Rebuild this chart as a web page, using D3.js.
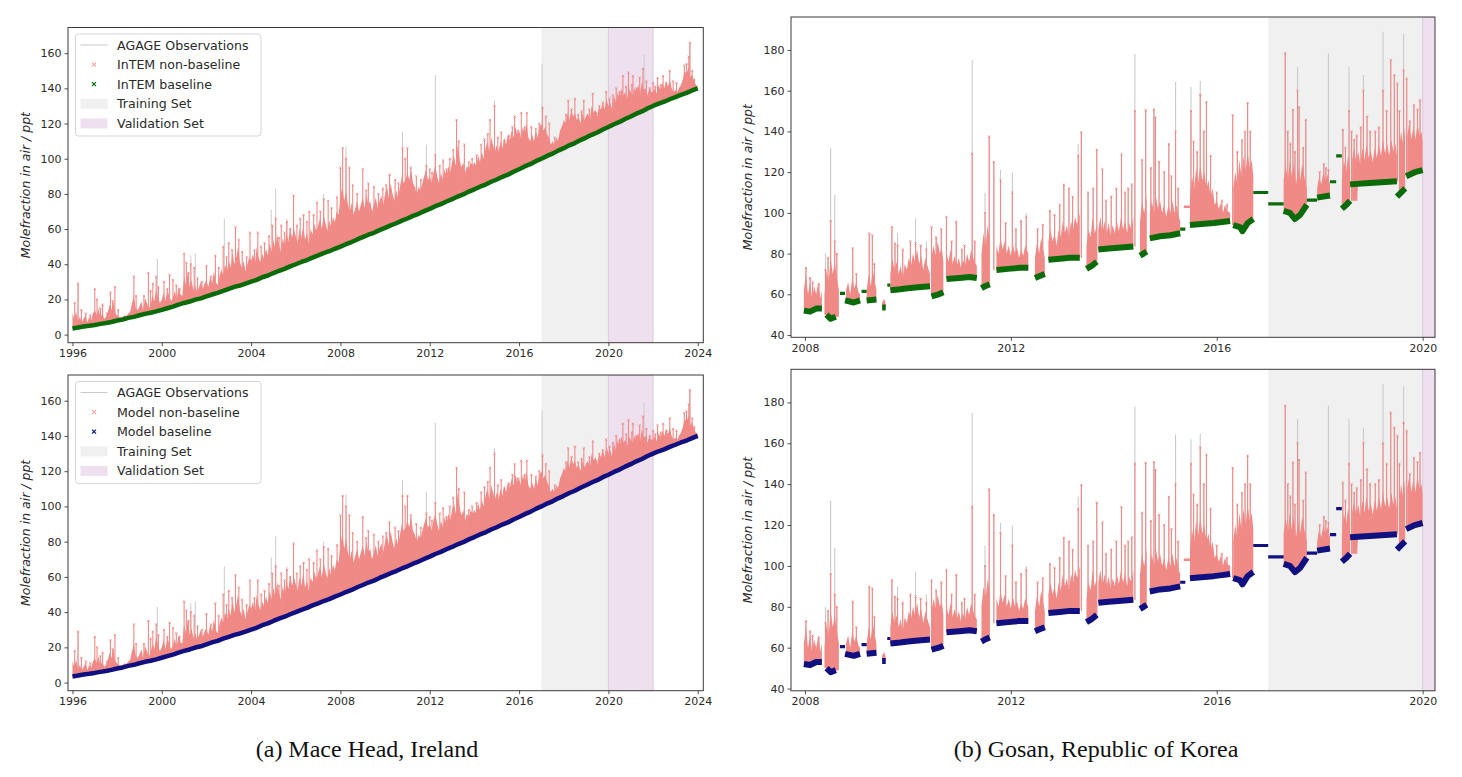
<!DOCTYPE html>
<html>
<head>
<meta charset="utf-8">
<script src="https://cdn.jsdelivr.net/npm/d3@7"></script>
<style>
  body { margin: 0; background: #fff; }
  svg { display: block; }
</style>
</head>
<body>
<svg id="fig" width="1462" height="777"></svg>
<script>
// ── Mace Head ──
// baseline, quarterly from 1996.0
const MHD_T0 = 1996;
const mhdBase = [
  3.5, 4.0, 4.6, 5.0,  5.5, 6.1, 6.6, 7.2,  8.0, 8.6, 9.5, 10.1,  11.0, 11.8, 12.4, 13.2,
  14.1, 15.0, 15.9, 17.0,  18.0, 18.8, 19.9, 20.6,  21.7, 22.8, 23.7, 24.9,  26.0, 27.1, 27.9, 29.0,
  30.1, 31.1, 32.6, 33.6,  35.0, 36.3, 37.4, 38.8,  40.0, 41.3, 42.4, 43.8,  45.0, 46.3, 47.4, 48.8,
  50.0, 51.4, 52.6, 54.1,  55.4, 56.8, 57.9, 59.4,  60.7, 62.1, 63.3, 64.8,  66.0, 67.5, 68.7, 70.2,
  71.5, 73.0, 74.2, 75.7,  77.0, 78.5, 79.7, 81.3,  82.6, 84.1, 85.3, 86.9,  88.2, 89.7, 90.9, 92.6,
  94.0, 95.6, 96.9, 98.6,  100.0, 101.6, 102.9, 104.6,  106.0, 107.6, 108.9, 110.6,  112.0, 113.6, 114.9, 116.6,
  118.0, 119.6, 120.9, 122.6,  124.0, 125.6, 126.9, 128.6,  130.0, 131.3, 132.4, 133.8,  135.0, 136.3, 137.4, 138.8,
  140.0
];
// top of the dense non-baseline cloud, monthly from 1996.0
const mhdBody = [
  12, 9, 13, 8, 10, 7, 9, 11, 7, 10, 8, 12,
  14, 11, 15, 10, 12, 9, 10, 13, 17, 14, 19, 12,
  11, 10, 9.5, 10, 11, 10.5, 12, 13, 18, 22, 15, 14,
  16, 19, 14, 21, 18, 15, 17, 22, 19, 26, 21, 18,
  20, 24, 19, 26, 22, 19, 21, 25, 20, 27, 23, 22,
  33, 28, 36, 27, 31, 25, 28, 24, 27, 30, 26, 29,
  31, 27, 33, 29, 36, 30, 28, 33, 37, 34, 40, 36,
  42, 38, 47, 40, 44, 50, 41, 38, 42, 36, 40, 44,
  42, 46, 40, 50, 44, 41, 46, 43, 49, 45, 52, 47,
  54, 49, 57, 51, 47, 55, 50, 58, 53, 61, 55, 60,
  56, 52, 60, 55, 62, 54, 58, 52, 60, 57, 63, 59,
  62, 66, 60, 68, 63, 59, 65, 61, 67, 64, 70, 68,
  78, 85, 76, 82, 74, 70, 75, 68, 72, 76, 70, 74,
  78, 72, 80, 74, 76, 70, 74, 78, 72, 76, 79, 74,
  80, 84, 78, 86, 80, 76, 82, 78, 84, 90, 86, 88,
  92, 88, 94, 86, 84, 80, 84, 82, 86, 90, 94, 88,
  90, 86, 92, 96, 90, 86, 92, 88, 94, 90, 96, 92,
  98, 102, 96, 108, 100, 95, 98, 92, 96, 94, 98, 96,
  98, 96, 102, 98, 104, 100, 106, 110, 104, 112, 108, 104,
  108, 104, 110, 106, 112, 108, 114, 110, 116, 112, 118, 114,
  116, 112, 118, 114, 120, 112, 110, 114, 110, 116, 112, 118,
  120, 116, 118, 114, 112, 108, 110, 108, 112, 110, 116, 118,
  122, 120, 126, 122, 128, 124, 126, 122, 124, 120, 126, 122,
  124, 126, 122, 130, 126, 128, 124, 130, 128, 132, 128, 134,
  130, 132, 128, 136, 132, 138, 134, 140, 136, 138, 134, 140,
  138, 136, 140, 138, 142, 137, 144, 139, 140, 136, 140, 138,
  138, 140, 137, 142, 139, 143, 140, 144, 141, 145, 140, 138,
  139, 138, 140, 142, 145, 150, 148, 152, 146, 148, 144, 142,
  141
];
// individual pollution events [year, ppt]
const mhdSpikes = [
  [1996.1, 18], [1996.25, 29], [1996.4, 14], [1996.6, 12], [1996.8, 11], [1997.0, 26], [1997.1, 20],
  [1997.25, 15], [1997.35, 17], [1997.55, 12], [1997.7, 24], [1997.8, 19], [1997.9, 27], [1998.05, 14],
  [1998.75, 33], [1998.85, 22], [1999.2, 22], [1999.4, 35], [1999.5, 25], [1999.6, 29], [1999.75, 33],
  [1999.85, 27], [2000.1, 30], [2000.25, 26], [2000.35, 34], [2000.5, 31], [2000.65, 28], [2000.8, 26],
  [2001.0, 46], [2001.1, 41], [2001.2, 35], [2001.3, 40], [2001.45, 38], [2001.6, 32], [2001.8, 30],
  [2002.0, 39], [2002.2, 33], [2002.4, 45], [2002.55, 38], [2002.75, 50], [2002.9, 44], [2003.0, 52],
  [2003.15, 48], [2003.3, 61], [2003.45, 54], [2003.6, 47], [2003.8, 44], [2003.95, 58], [2004.15, 48],
  [2004.3, 58], [2004.45, 50], [2004.6, 52], [2004.8, 56], [2004.95, 62], [2005.1, 66], [2005.25, 55],
  [2005.35, 62], [2005.5, 58], [2005.6, 64], [2005.75, 60], [2005.9, 79], [2006.05, 62], [2006.2, 66],
  [2006.35, 68], [2006.5, 64], [2006.6, 70], [2006.8, 68], [2006.95, 75], [2007.1, 70], [2007.25, 77],
  [2007.45, 76], [2007.6, 72], [2007.85, 78], [2008.0, 95], [2008.1, 106], [2008.25, 100], [2008.4, 95],
  [2008.55, 85], [2008.75, 80], [2009.0, 94], [2009.15, 82], [2009.25, 86], [2009.5, 84], [2009.7, 80],
  [2009.9, 83], [2010.05, 85], [2010.2, 91], [2010.45, 88], [2010.6, 86], [2010.78, 106], [2010.9, 100],
  [2011.0, 106], [2011.15, 95], [2011.4, 90], [2011.6, 88], [2011.85, 96], [2012.0, 94], [2012.1, 92],
  [2012.25, 102], [2012.45, 96], [2012.6, 99], [2012.75, 94], [2012.9, 100], [2013.05, 105], [2013.2, 122],
  [2013.3, 110], [2013.55, 108], [2013.75, 98], [2013.9, 100], [2014.1, 102], [2014.3, 108], [2014.45, 111],
  [2014.6, 114], [2014.7, 122], [2014.9, 130], [2015.05, 112], [2015.2, 115], [2015.35, 110], [2015.55, 113],
  [2015.7, 118], [2015.8, 124], [2015.95, 116], [2016.1, 126], [2016.25, 118], [2016.35, 126], [2016.55, 118],
  [2016.75, 117], [2016.9, 120], [2017.05, 129], [2017.2, 124], [2017.35, 120], [2017.6, 112], [2017.8, 111],
  [2017.95, 118], [2018.1, 125], [2018.2, 133], [2018.35, 128], [2018.5, 134], [2018.65, 125], [2018.8, 127],
  [2018.9, 133], [2019.05, 124], [2019.15, 128], [2019.3, 137], [2019.45, 126], [2019.6, 130], [2019.75, 132],
  [2019.9, 138], [2020.05, 134], [2020.2, 136], [2020.35, 140], [2020.5, 138], [2020.65, 147], [2020.8, 141],
  [2020.9, 149], [2021.05, 142], [2021.1, 147], [2021.25, 140], [2021.4, 146], [2021.55, 151], [2021.7, 144],
  [2021.85, 140], [2022.0, 143], [2022.1, 141], [2022.2, 146], [2022.35, 142], [2022.45, 147], [2022.6, 143],
  [2022.75, 150], [2022.9, 144], [2023.05, 143], [2023.2, 140], [2023.4, 153], [2023.5, 154], [2023.6, 158],
  [2023.65, 166], [2023.75, 150], [2023.85, 145]
];
// observation peaks rising above the non-baseline markers
const mhdObsPeaks = [
  [1996.25, 29], [1999.8, 43], [2001.3, 45], [2001.5, 46], [2002.8, 66], [2004.9, 71], [2005.1, 83],
  [2005.6, 66], [2007.25, 80], [2008.25, 107], [2010.78, 115], [2011.85, 108], [2012.25, 147.5],
  [2014.9, 133], [2017.03, 154], [2021.6, 159], [2023.65, 166]
];

// ── Gosan ──
// baseline clusters [year, ppt], null = gap
const gsnBaseline = [
  [2007.98, 52], [2008.1, 51.5], [2008.22, 53], [2008.33, 53], null,
  [2008.42, 50], [2008.5, 48], [2008.6, 49], null,
  [2008.78, 57], [2008.95, 56], [2009.07, 57], null,
  [2009.2, 57], [2009.39, 57.5], null,
  [2009.5, 53.5], [2009.57, 53.5], null,
  [2009.66, 62], [2009.85, 62.5], [2010.0, 63], [2010.2, 63.5], [2010.43, 64], null,
  [2010.46, 59], [2010.6, 60], [2010.69, 61], null,
  [2010.75, 67.5], [2011.0, 68], [2011.2, 68.5], [2011.34, 68], null,
  [2011.43, 63], [2011.5, 64], [2011.59, 65], null,
  [2011.72, 72], [2011.95, 72.5], [2012.15, 73], [2012.34, 73], null,
  [2012.47, 68], [2012.56, 69], [2012.66, 70], null,
  [2012.73, 77], [2012.95, 77.5], [2013.15, 78], [2013.34, 78], null,
  [2013.47, 72.5], [2013.57, 74], [2013.67, 76], null,
  [2013.7, 82], [2013.9, 82.5], [2014.15, 83], [2014.38, 83.5], null,
  [2014.51, 79], [2014.58, 80], [2014.64, 81], null,
  [2014.7, 87.5], [2014.9, 88.5], [2015.1, 89], [2015.29, 90], null,
  [2015.48, 94], [2015.7, 94.5], [2015.94, 95], [2016.1, 95.5], [2016.26, 96], null,
  [2016.32, 94], [2016.45, 93], [2016.5, 91], [2016.6, 95], [2016.71, 97], null,
  [2017.3, 101], [2017.42, 100], [2017.52, 97], [2017.62, 99], [2017.75, 104], null,
  [2017.95, 107.5], [2018.2, 108.5], null,
  [2018.43, 102], [2018.52, 104], [2018.59, 106], null,
  [2018.59, 114], [2018.9, 114.5], [2019.2, 115], [2019.5, 115.5], null,
  [2019.5, 108], [2019.58, 110], [2019.66, 112], null,
  [2019.68, 118], [2019.85, 120], [2020.0, 121]
];
// flat baseline runs across data gaps [from, to, ppt]
const gsnFlatBase = [
  [2008.68, 2008.78, 60.5], [2009.1, 2009.2, 61.5], [2009.6, 2009.66, 64.5], [2015.29, 2015.39, 92],
  [2016.71, 2017.0, 110], [2017.0, 2017.3, 104.4], [2017.75, 2017.95, 106.3], [2018.2, 2018.32, 115.3],
  [2018.32, 2018.43, 128]
];
const gsnFlatNonBase = [[2015.36, 2015.48, 103]];
// top of the dense non-baseline cloud [year, ppt], null = gap
const gsnBody = [
  [2007.98, 62], [2008.02, 70], [2008.06, 60], [2008.1, 66], [2008.14, 58], [2008.18, 64], [2008.22, 60],
  [2008.26, 66], [2008.3, 58], [2008.33, 62], null,
  [2008.38, 60], [2008.42, 72], [2008.46, 66], [2008.5, 78], [2008.54, 70], [2008.58, 76], [2008.62, 68],
  [2008.66, 62], null,
  [2008.8, 62], [2008.84, 66], [2008.88, 60], [2008.92, 68], [2008.96, 63], [2009.0, 66], [2009.04, 61],
  [2009.07, 60], null,
  [2009.2, 62], [2009.24, 70], [2009.28, 64], [2009.32, 72], [2009.36, 66], [2009.39, 62], null,
  [2009.5, 56], [2009.54, 58], [2009.57, 55], null,
  [2009.66, 70], [2009.7, 78], [2009.74, 72], [2009.78, 76], [2009.82, 70], [2009.86, 74], [2009.9, 68],
  [2009.94, 75], [2009.98, 72], [2010.02, 78], [2010.06, 74], [2010.1, 80], [2010.14, 76], [2010.18, 82],
  [2010.22, 75], [2010.26, 79], [2010.3, 72], [2010.34, 78], [2010.38, 74], [2010.43, 70], null,
  [2010.46, 78], [2010.5, 84], [2010.54, 79], [2010.58, 86], [2010.62, 80], [2010.66, 83], [2010.69, 76], null,
  [2010.75, 80], [2010.79, 76], [2010.83, 82], [2010.87, 75], [2010.91, 79], [2010.95, 74], [2010.99, 78],
  [2011.03, 73], [2011.07, 77], [2011.11, 74], [2011.15, 80], [2011.19, 76], [2011.23, 82], [2011.27, 78],
  [2011.31, 75], [2011.34, 74], null,
  [2011.43, 80], [2011.47, 90], [2011.51, 84], [2011.55, 94], [2011.59, 86], null,
  [2011.72, 84], [2011.76, 80], [2011.8, 88], [2011.84, 82], [2011.88, 86], [2011.92, 80], [2011.96, 84],
  [2012.0, 79], [2012.04, 85], [2012.08, 80], [2012.12, 83], [2012.16, 78], [2012.2, 82], [2012.24, 79],
  [2012.28, 84], [2012.34, 80], null,
  [2012.47, 78], [2012.51, 86], [2012.55, 80], [2012.59, 88], [2012.63, 82], [2012.66, 78], null,
  [2012.73, 86], [2012.77, 92], [2012.81, 86], [2012.85, 90], [2012.89, 84], [2012.93, 92], [2012.97, 88],
  [2013.01, 96], [2013.05, 90], [2013.09, 94], [2013.13, 88], [2013.17, 96], [2013.21, 92], [2013.25, 98],
  [2013.29, 94], [2013.34, 100], null,
  [2013.47, 84], [2013.51, 92], [2013.55, 88], [2013.59, 98], [2013.63, 90], [2013.67, 94], null,
  [2013.7, 92], [2013.74, 98], [2013.78, 90], [2013.82, 96], [2013.86, 90], [2013.9, 95], [2013.94, 89],
  [2013.98, 94], [2014.02, 90], [2014.06, 96], [2014.1, 91], [2014.14, 98], [2014.18, 92], [2014.22, 96],
  [2014.26, 90], [2014.3, 95], [2014.34, 92], [2014.38, 98], null,
  [2014.51, 96], [2014.55, 106], [2014.59, 100], [2014.64, 108], null,
  [2014.7, 100], [2014.74, 106], [2014.78, 100], [2014.82, 108], [2014.86, 102], [2014.9, 106], [2014.94, 100],
  [2014.98, 104], [2015.02, 98], [2015.06, 104], [2015.1, 100], [2015.14, 106], [2015.18, 100], [2015.22, 104],
  [2015.26, 98], [2015.29, 96], null,
  [2015.48, 108], [2015.52, 118], [2015.56, 112], [2015.6, 122], [2015.64, 115], [2015.68, 124], [2015.72, 116],
  [2015.76, 120], [2015.8, 112], [2015.84, 116], [2015.88, 108], [2015.92, 112], [2015.96, 104], [2016.0, 106],
  [2016.04, 102], [2016.08, 105], [2016.12, 100], [2016.16, 104], [2016.2, 101], [2016.26, 100], null,
  [2016.32, 112], [2016.36, 120], [2016.4, 114], [2016.44, 126], [2016.48, 118], [2016.52, 128], [2016.56, 120],
  [2016.6, 130], [2016.64, 122], [2016.68, 126], [2016.71, 118], null,
  [2017.3, 116], [2017.34, 124], [2017.38, 116], [2017.42, 126], [2017.46, 118], [2017.5, 124], [2017.54, 114],
  [2017.58, 122], [2017.62, 116], [2017.66, 124], [2017.7, 118], [2017.75, 112], null,
  [2017.95, 112], [2017.99, 118], [2018.03, 114], [2018.07, 120], [2018.11, 116], [2018.15, 119], [2018.2, 114], null,
  [2018.43, 116], [2018.47, 126], [2018.51, 120], [2018.55, 128], [2018.59, 122], null,
  [2018.63, 126], [2018.67, 132], [2018.71, 125], [2018.75, 130], [2018.79, 124], [2018.83, 132], [2018.87, 126],
  [2018.91, 134], [2018.95, 127], [2018.99, 131], [2019.03, 125], [2019.07, 132], [2019.11, 127], [2019.15, 134],
  [2019.19, 128], [2019.23, 136], [2019.27, 129], [2019.31, 134], [2019.35, 128], [2019.39, 136], [2019.43, 130],
  [2019.47, 134], [2019.5, 128], null,
  [2019.54, 130], [2019.58, 140], [2019.62, 134], [2019.66, 142], null,
  [2019.7, 138], [2019.74, 144], [2019.78, 136], [2019.82, 142], [2019.86, 136], [2019.9, 144], [2019.94, 138],
  [2019.98, 140], [2020.0, 134]
];
// pollution events [year, non-baseline top, observation top]
const gsnSpikes = [
  [2008.02, 73, 73], [2008.1, 68, 68], [2008.15, 66, 66], [2008.27, 65, 65], [2008.4, 72, 80],
  [2008.45, 78, 78], [2008.5, 96, 131.9], [2008.58, 86, 108.8], [2008.62, 80, 80], [2008.93, 82.6, 82.6],
  [2009.0, 70, 70], [2009.25, 89.9, 89.9], [2009.31, 89, 89], [2009.35, 75, 75], [2009.69, 93, 93],
  [2009.75, 85, 85], [2009.8, 84, 90], [2009.9, 82, 82], [2010.05, 86, 86], [2010.15, 85, 97.2],
  [2010.25, 84, 84], [2010.36, 82, 86], [2010.46, 93, 93], [2010.55, 88, 88], [2010.65, 92, 92],
  [2010.75, 98, 98], [2010.85, 86, 86], [2010.94, 95.7, 95.7], [2011.05, 82, 82], [2011.1, 84, 84],
  [2011.25, 129, 175], [2011.3, 86, 86], [2011.5, 100, 110], [2011.58, 137.5, 137.5], [2011.67, 125, 125],
  [2011.8, 116, 121], [2011.9, 95, 95], [2012.03, 110, 119.8], [2012.1, 92, 92], [2012.2, 96, 96],
  [2012.3, 98, 100], [2012.52, 92, 92], [2012.62, 94, 94], [2012.76, 101, 101], [2012.85, 99, 99],
  [2012.95, 104, 104], [2013.03, 113.8, 113.8], [2013.13, 112, 112], [2013.2, 108, 108], [2013.31, 128, 134],
  [2013.37, 139.6, 139.6], [2013.5, 110, 110], [2013.6, 112, 112], [2013.67, 131, 131], [2013.78, 121.4, 121.4],
  [2013.85, 106, 106], [2013.95, 108, 108], [2014.05, 112, 112], [2014.15, 128.8, 128.8], [2014.22, 110, 110],
  [2014.28, 112, 112], [2014.35, 114, 114], [2014.41, 150, 178], [2014.55, 126, 126], [2014.62, 150.5, 150.5],
  [2014.72, 122, 122], [2014.78, 150.8, 150.8], [2014.81, 147, 147], [2014.88, 125, 125], [2014.98, 120, 120],
  [2015.07, 133.8, 133.8], [2015.12, 118, 118], [2015.2, 140, 164.3], [2015.25, 112, 112], [2015.5, 150, 161.8],
  [2015.55, 135, 135], [2015.62, 130, 130], [2015.68, 158, 164.8], [2015.75, 140, 140], [2015.8, 154.5, 154.5],
  [2015.88, 128, 128], [2016.0, 110, 110], [2016.1, 106, 106], [2016.2, 104, 104], [2016.31, 148, 148],
  [2016.4, 130, 130], [2016.49, 135.7, 135.7], [2016.55, 140, 140], [2016.6, 154, 154], [2016.65, 140, 140],
  [2017.33, 178.4, 178.4], [2017.38, 140, 140], [2017.43, 134, 134], [2017.48, 150.6, 150.6], [2017.52, 130, 130],
  [2017.57, 160, 171.8], [2017.6, 151.9, 151.9], [2017.68, 132, 132], [2017.73, 145.7, 145.7], [2018.0, 120, 120],
  [2018.08, 124, 124], [2018.12, 122, 122], [2018.17, 121, 178.4], [2018.45, 140.8, 140.8], [2018.5, 132, 132],
  [2018.57, 150, 171.8], [2018.62, 140, 140], [2018.67, 135.9, 135.9], [2018.72, 138, 138], [2018.8, 142, 142],
  [2018.85, 160, 167.7], [2018.92, 147.3, 147.3], [2018.98, 140, 140], [2019.08, 140, 140], [2019.15, 142, 142],
  [2019.23, 160, 189], [2019.3, 150, 150], [2019.38, 175, 175], [2019.45, 167.7, 167.7], [2019.51, 163.6, 163.6],
  [2019.55, 150, 150], [2019.63, 170, 187.9], [2019.69, 166, 166], [2019.75, 145, 145], [2019.83, 152.9, 152.9],
  [2019.9, 150.8, 150.8], [2019.95, 155.3, 155.3]
];

// ── Axes ticks and shaded periods ──
const mhdXMajor = [1996, 2000, 2004, 2008, 2012, 2016, 2020, 2024];
const mhdXMinor = d3.range(1996, 2025);
const mhdYMajor = [0, 20, 40, 60, 80, 100, 120, 140, 160];
const gsnXMajor = [2008, 2012, 2016, 2020];
const gsnXMinor = d3.range(2008, 2021);
const gsnYMajor = [40, 60, 80, 100, 120, 140, 160, 180];
const trainingSet = [2017, 2020];
const validationSet = [2020, 2022];
const gsnValidationSet = [2020, 2021];

const legendTop = ['AGAGE Observations', 'InTEM non-baseline', 'InTEM baseline', 'Training Set', 'Validation Set'];
const legendBottom = ['AGAGE Observations', 'Model non-baseline', 'Model baseline', 'Training Set', 'Validation Set'];
const captions = ['(a) Mace Head, Ireland', '(b) Gosan, Republic of Korea'];

// ── colours ──
const C = {
  obs: '#cbcbcb', pink: '#f08a86', pinkMark: '#e98080', green: '#0b6b0b', navy: '#101080',
  train: '#f0f0f0', valid: '#eee0ef', validEdge: '#dccadc', axis: '#3a3a3a', text: '#2a2a2a'
};
const FONT = 'DejaVu Sans, sans-serif';

const svg = d3.select('#fig');

function drawPanel(p) {
  const x = d3.scaleLinear().domain(p.xDom).range([p.x0, p.x1]);
  const y = d3.scaleLinear().domain(p.yDom).range([p.y1, p.y0]);
  const g = svg.append('g');
  const clipId = 'clip' + p.id;
  svg.append('clipPath').attr('id', clipId)
    .append('rect').attr('x', p.x0).attr('y', p.y0).attr('width', p.x1 - p.x0).attr('height', p.y1 - p.y0);
  const plot = g.append('g').attr('clip-path', `url(#${clipId})`);

  // shaded periods
  plot.append('rect').attr('x', x(trainingSet[0])).attr('y', p.y0)
    .attr('width', x(trainingSet[1]) - x(trainingSet[0])).attr('height', p.y1 - p.y0).attr('fill', C.train);
  plot.append('rect').attr('x', x(p.valid[0])).attr('y', p.y0)
    .attr('width', x(p.valid[1]) - x(p.valid[0])).attr('height', p.y1 - p.y0)
    .attr('fill', C.valid).attr('stroke', C.validEdge).attr('stroke-width', 1);

  const s = p.site;
  // observation spikes (grey)
  plot.selectAll('line.obs').data(s.obs).join('line')
    .attr('x1', d => x(d[0])).attr('x2', d => x(d[0]))
    .attr('y1', d => y(s.baseAt(d[0]))).attr('y2', d => y(d[1]))
    .attr('stroke', C.obs).attr('stroke-width', s.obsW);

  // dense non-baseline cloud
  plot.append('path').datum(s.body)
    .attr('d', d3.area().defined(d => d !== null)
      .x(d => x(d[0])).y0(d => y(s.baseAt(d[0]))).y1(d => y(d[1])))
    .attr('fill', C.pink);

  // non-baseline spikes
  plot.selectAll('line.nb').data(s.spikes).join('line')
    .attr('x1', d => x(d[0])).attr('x2', d => x(d[0]))
    .attr('y1', d => y(s.baseAt(d[0]))).attr('y2', d => y(d[1]))
    .attr('stroke', C.pink).attr('stroke-width', s.spikeW);
  plot.selectAll('path.mk').data(s.spikes).join('path')
    .attr('transform', d => `translate(${x(d[0])},${y(d[1])})`)
    .attr('d', 'M-1.1,-1.1L1.1,1.1M-1.1,1.1L1.1,-1.1')
    .attr('stroke', C.pinkMark).attr('stroke-width', 0.7);

  // flat runs across gaps
  plot.selectAll('line.fnb').data(s.flatNonBase).join('line')
    .attr('x1', d => x(d[0])).attr('x2', d => x(d[1])).attr('y1', d => y(d[2])).attr('y2', d => y(d[2]))
    .attr('stroke', C.pink).attr('stroke-width', 2.5);
  plot.selectAll('line.fb').data(s.flatBase).join('line')
    .attr('x1', d => x(d[0])).attr('x2', d => x(d[1])).attr('y1', d => y(d[2])).attr('y2', d => y(d[2]))
    .attr('stroke', p.baseColor).attr('stroke-width', 3.2);

  // baseline
  plot.append('path').datum(s.baseline)
    .attr('d', d3.line().defined(d => d !== null).x(d => x(d[0])).y(d => y(d[1])))
    .attr('fill', 'none').attr('stroke', p.baseColor).attr('stroke-width', s.baseW)
    .attr('stroke-linejoin', 'round');

  // axes
  const ax = g.append('g').attr('transform', `translate(0,${p.y1})`);
  ax.call(d3.axisBottom(x).tickValues(p.xMinor).tickSize(2).tickFormat(''));
  ax.call(d3.axisBottom(x).tickValues(p.xMajor).tickSize(3.5).tickPadding(3).tickFormat(d3.format('d')));
  const ay = g.append('g').attr('transform', `translate(${p.x0},0)`);
  ay.call(d3.axisLeft(y).tickValues(d3.range(p.yMinor0, p.yDom[1], 5)).tickSize(2).tickFormat(''));
  ay.call(d3.axisLeft(y).tickValues(p.yMajor).tickSize(3.5).tickPadding(3).tickFormat(d3.format('d')));
  g.selectAll('.domain').remove();
  g.selectAll('.tick line').attr('stroke', C.axis).attr('stroke-width', 0.9);
  g.selectAll('.tick text').attr('font-family', FONT).attr('font-size', 11).attr('fill', C.text);

  g.append('rect').attr('x', p.x0).attr('y', p.y0).attr('width', p.x1 - p.x0).attr('height', p.y1 - p.y0)
    .attr('fill', 'none').attr('stroke', C.axis).attr('stroke-width', 1);

  g.append('text')
    .attr('transform', `translate(${p.labelX},${(p.y0 + p.y1) / 2}) rotate(-90)`)
    .attr('text-anchor', 'middle').attr('font-family', FONT).attr('font-style', 'italic')
    .attr('font-size', 12.5).attr('fill', C.text).text('Molefraction in air / ppt');

  if (p.legend) drawLegend(g, p.x0 + 7.5, p.y0 + 6.5, p.legend, p.baseColor);
}

function drawLegend(g, lx, ly, labels, baseColor) {
  const lg = g.append('g').attr('transform', `translate(${lx},${ly})`);
  lg.append('rect').attr('width', 185.5).attr('height', 102).attr('rx', 3)
    .attr('fill', '#fff').attr('fill-opacity', 0.85).attr('stroke', '#d6d6d6').attr('stroke-width', 1);
  labels.forEach((lab, i) => {
    const cy = 11 + i * 19.6;
    const row = lg.append('g').attr('transform', `translate(0,${cy})`);
    if (i === 0) {
      row.append('line').attr('x1', 5).attr('x2', 32).attr('stroke', C.obs).attr('stroke-width', 1);
    } else if (i === 1 || i === 2) {
      row.append('path').attr('transform', 'translate(18.5,0)')
        .attr('d', 'M-2,-2L2,2M-2,2L2,-2')
        .attr('stroke', i === 1 ? '#f4a6a6' : baseColor).attr('stroke-width', 1.2);
    } else {
      row.append('rect').attr('x', 5).attr('y', -5).attr('width', 27).attr('height', 10)
        .attr('fill', i === 3 ? C.train : C.valid);
    }
    row.append('text').attr('x', 41.5).attr('y', 0).attr('dy', '0.36em')
      .attr('font-family', FONT).attr('font-size', 12.6).attr('fill', C.text).text(lab);
  });
}

// site objects
const mhdBaseline = mhdBase.map((v, i) => [MHD_T0 + i / 4, v]);
const mhd = {
  baseline: mhdBaseline,
  body: mhdBody.map((v, i) => [MHD_T0 + i / 12, v]),
  spikes: mhdSpikes,
  obs: mhdObsPeaks,
  flatBase: [], flatNonBase: [],
  baseAt: t => mhdBase[Math.min(mhdBase.length - 1, Math.round((t - MHD_T0) * 4))],
  spikeW: 1.1, obsW: 1, baseW: 4.5
};
const gsnPts = gsnBaseline.filter(d => d !== null);
const gsn = {
  baseline: gsnBaseline,
  body: gsnBody,
  spikes: gsnSpikes,
  obs: gsnSpikes.map(d => [d[0], d[2]]),
  flatBase: gsnFlatBase, flatNonBase: gsnFlatNonBase,
  baseAt: t => d3.least(gsnPts, d => Math.abs(d[0] - t))[1],
  spikeW: 1.1, obsW: 1.1, baseW: 6
};

const mhdPanel = { xDom: [1995.8, 2024.25], xMajor: mhdXMajor, xMinor: mhdXMinor, yDom: [-4.6, 174.6],
  yMajor: mhdYMajor, yMinor0: 0, valid: validationSet, site: mhd, x0: 68, x1: 703.3, labelX: 30 };
const gsnPanel = { xDom: [2007.73, 2020.24], xMajor: gsnXMajor, xMinor: gsnXMinor, yDom: [38.9, 196.2],
  yMajor: gsnYMajor, yMinor0: 40, valid: gsnValidationSet, site: gsn, x0: 791, x1: 1435, labelX: 752 };

drawPanel({ ...mhdPanel, id: 'tl', y0: 27.5, y1: 342.7, baseColor: C.green, legend: legendTop });
drawPanel({ ...mhdPanel, id: 'bl', y0: 375, y1: 690.7, baseColor: C.navy, legend: legendBottom });
drawPanel({ ...gsnPanel, id: 'tr', y0: 17, y1: 337.3, baseColor: C.green });
drawPanel({ ...gsnPanel, id: 'br', y0: 369.3, y1: 690.8, baseColor: C.navy });

svg.selectAll('text.cap').data(captions).join('text').attr('class', 'cap')
  .attr('x', (d, i) => [367, 1096][i]).attr('y', 757)
  .attr('text-anchor', 'middle').attr('font-family', 'Liberation Serif, Times New Roman, serif')
  .attr('font-size', 24).attr('fill', '#111').text(d => d);
</script>
</body>
</html>
